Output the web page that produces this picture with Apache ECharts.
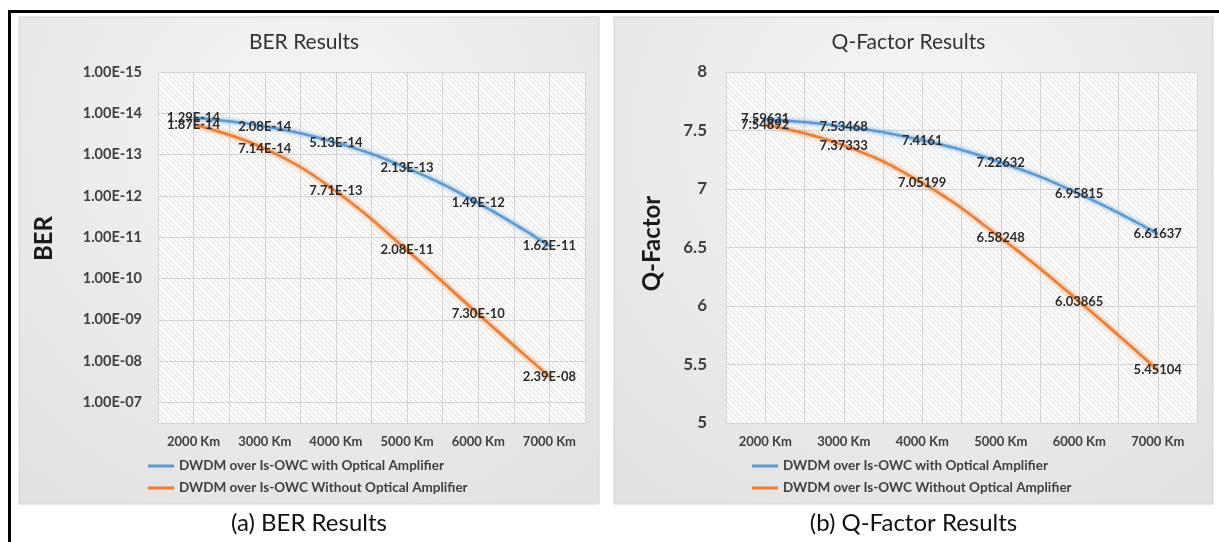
<!DOCTYPE html>
<html>
<head>
<meta charset="utf-8">
<script src="https://cdn.jsdelivr.net/npm/echarts@6/dist/echarts.min.js"></script>
<style>
  html, body { margin: 0; padding: 0; background: #ffffff; }
  #chart { width: 1219px; height: 542px; }
</style>
</head>
<body>
<div id="chart"></div>
<script>
// Transmission distances shared by both panels
const distances = ['2000 Km', '3000 Km', '4000 Km', '5000 Km', '6000 Km', '7000 Km'];
const seriesNames = [
  'DWDM over Is-OWC with Optical Amplifier',
  'DWDM over Is-OWC Without Optical Amplifier'
];

// Bit error rate per distance
const berWithAmp    = [1.29e-14, 2.08e-14, 5.13e-14, 2.13e-13, 1.49e-12, 1.62e-11];
const berWithoutAmp = [1.87e-14, 7.14e-14, 7.71e-13, 2.08e-11, 7.30e-10, 2.39e-8];

// Q-factor per distance
const qWithAmp    = [7.59631, 7.53468, 7.4161, 7.22632, 6.95815, 6.61637];
const qWithoutAmp = [7.54892, 7.37333, 7.05199, 6.58248, 6.03865, 5.45104];

// Axis ranges
const berRange = [1e-15, Math.pow(10, -6.5)];
const qRange = [5, 8];
const qStep = 0.5;

const panelTitles = ['BER Results', 'Q-Factor Results'];
const captions = ['(a) BER Results', '(b) Q-Factor Results'];
const axisNames = ['BER', 'Q-Factor'];

const FONT = 'Lato, "Open Sans", sans-serif';
const BLUE = '#5b9bd5';
const ORANGE = '#ed7d31';

// "1.62e-11" -> "1.62E-11", "2.39e-8" -> "2.39E-08"
function sci(v) {
  const parts = Number(v).toExponential(2).split('e');
  const sign = parts[1][0];
  const digits = parts[1].slice(1).padStart(2, '0');
  return parts[0] + 'E' + sign + digits;
}

// Diagonal hatch tile for the plot areas
function hatchTile() {
  const s = 5;
  const c = document.createElement('canvas');
  c.width = s; c.height = s;
  const ctx = c.getContext('2d');
  ctx.fillStyle = '#ffffff';
  ctx.fillRect(0, 0, s, s);
  ctx.strokeStyle = '#dedede';
  ctx.lineWidth = 1;
  ctx.beginPath();
  ctx.moveTo(-1, -1); ctx.lineTo(s + 1, s + 1);
  ctx.moveTo(-1, s - 1); ctx.lineTo(1, s + 1);
  ctx.moveTo(s - 1, -1); ctx.lineTo(s + 1, 1);
  ctx.stroke();
  return c;
}
const hatch = { image: hatchTile(), repeat: 'repeat' };

const panelFill = {
  type: 'radial', x: 0.5, y: 0.25, r: 0.9,
  colorStops: [{ offset: 0, color: '#f6f6f6' }, { offset: 1, color: '#e2e2e2' }]
};

const grids = [
  { left: 158, top: 72, width: 427, height: 351 },
  { left: 726, top: 72, width: 471, height: 351 }
];
const panels = [
  { x: 19, y: 17, w: 580, h: 487 },
  { x: 614, y: 17, w: 599, h: 487 }
];

function categoryAxis(gi) {
  return {
    type: 'category', gridIndex: gi, data: distances, boundaryGap: true,
    axisLine: { show: false }, axisTick: { show: false }, splitLine: { show: false },
    axisLabel: { margin: 12, color: '#404040', fontFamily: FONT, fontWeight: 'bold', fontSize: 13 }
  };
}
// Half-category grid lines
function gridLineAxis(gi) {
  return {
    type: 'value', gridIndex: gi, min: 0, max: distances.length * 2, interval: 1,
    position: 'top', axisLine: { show: false }, axisTick: { show: false },
    axisLabel: { show: false },
    splitLine: { show: true, lineStyle: { color: '#d4d4d4', width: 1 } }
  };
}

function lineSeries(name, data, xi, yi, color, fmt) {
  return {
    name, type: 'line', data, xAxisIndex: xi, yAxisIndex: yi,
    smooth: 0.45, symbol: 'circle', symbolSize: 1, showSymbol: true,
    itemStyle: { color },
    lineStyle: { color, width: 2.5, shadowColor: color, shadowBlur: 4 },
    label: {
      show: true, position: 'inside', formatter: p => fmt(p.value),
      color: '#2b2b2b', fontFamily: FONT, fontWeight: 'bold', fontSize: 13
    },
    emphasis: { disabled: true }
  };
}

const graphic = [];
panels.forEach((p, i) => {
  graphic.push({
    type: 'rect', z: -10, shape: { x: p.x, y: p.y, width: p.w, height: p.h },
    style: { fill: panelFill, stroke: '#d2d2d2', lineWidth: 1 }, silent: true
  });
  graphic.push({
    type: 'text', z: 5, style: {
      x: p.x + p.w / 2 - 5, y: 42, text: panelTitles[i], align: 'center', verticalAlign: 'middle',
      fill: '#333333', font: '21px ' + FONT
    }, silent: true
  });
  graphic.push({
    type: 'text', z: 5, style: {
      x: p.x + p.w / 2, y: 523, text: captions[i], align: 'center', verticalAlign: 'middle',
      fill: '#111111', font: '24px ' + FONT
    }, silent: true
  });
});
// Frame lines along top and left edges
graphic.push({ type: 'rect', z: 10, shape: { x: 8, y: 10, width: 1211, height: 3 }, style: { fill: '#000' }, silent: true });
graphic.push({ type: 'rect', z: 10, shape: { x: 8, y: 10, width: 3, height: 532 }, style: { fill: '#000' }, silent: true });

const legendBase = {
  orient: 'vertical', icon: 'rect', itemWidth: 26, itemHeight: 3, itemGap: 8, padding: 0,
  data: seriesNames, selectedMode: false,
  textStyle: { fontFamily: FONT, fontWeight: 'bold', fontSize: 13.5, color: '#404040' }
};

const option = {
  backgroundColor: '#ffffff',
  animation: false,
  graphic,
  grid: grids.map(g => Object.assign({ show: true, backgroundColor: hatch, borderWidth: 0 }, g)),
  legend: [
    Object.assign({ left: 148, top: 459 }, legendBase),
    Object.assign({ left: 752, top: 459 }, legendBase)
  ],
  xAxis: [categoryAxis(0), gridLineAxis(0), categoryAxis(1), gridLineAxis(1)],
  yAxis: [
    {
      type: 'log', gridIndex: 0, inverse: true, min: berRange[0], max: berRange[1],
      logBase: 10, splitNumber: 9,
      axisLine: { show: false }, axisTick: { show: false },
      splitLine: { show: true, lineStyle: { color: '#d4d4d4' } },
      axisLabel: {
        margin: 16, color: '#404040', fontFamily: FONT, fontWeight: 'bold', fontSize: 14.5,
        formatter: v => {
          const e = Math.log10(v);
          return Math.abs(e - Math.round(e)) < 1e-6 ? sci(v) : '';
        }
      },
      name: axisNames[0], nameLocation: 'middle', nameGap: 102, nameRotate: 90,
      nameTextStyle: { fontFamily: FONT, fontWeight: 'bold', fontSize: 24, color: '#1a1a1a', padding: [0, 0, 0, 18] }
    },
    {
      type: 'value', gridIndex: 1, min: qRange[0], max: qRange[1], interval: qStep,
      axisLine: { show: false }, axisTick: { show: false },
      splitLine: { show: true, lineStyle: { color: '#d4d4d4' } },
      axisLabel: { margin: 19, color: '#404040', fontFamily: FONT, fontWeight: 'bold', fontSize: 17 },
      name: axisNames[1], nameLocation: 'middle', nameGap: 62, nameRotate: 90,
      nameTextStyle: { fontFamily: FONT, fontWeight: 'bold', fontSize: 24, color: '#1a1a1a', padding: [0, 0, 0, 8] }
    }
  ],
  series: [
    lineSeries(seriesNames[0], berWithAmp, 0, 0, BLUE, sci),
    lineSeries(seriesNames[1], berWithoutAmp, 0, 0, ORANGE, sci),
    lineSeries(seriesNames[0], qWithAmp, 2, 1, BLUE, v => String(v)),
    lineSeries(seriesNames[1], qWithoutAmp, 2, 1, ORANGE, v => String(v))
  ]
};

const chart = echarts.init(document.getElementById('chart'), null, { renderer: 'canvas' });
chart.setOption(option);
</script>
</body>
</html>
